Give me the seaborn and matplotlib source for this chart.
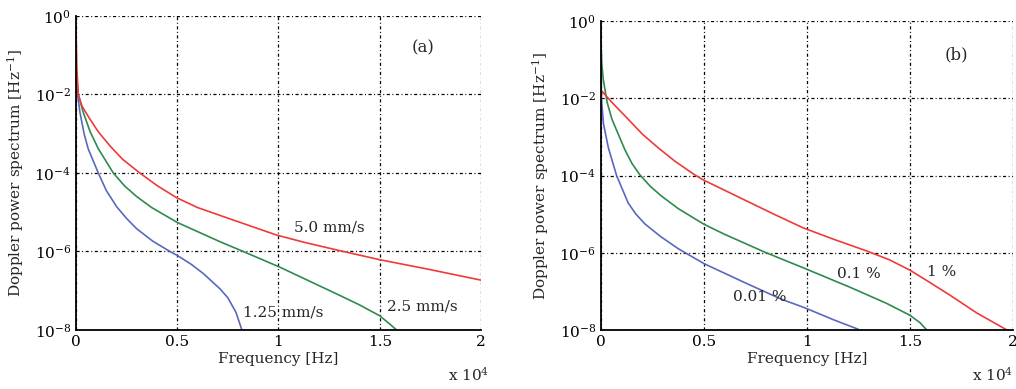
import numpy as np
import pandas as pd
import matplotlib
matplotlib.use("Agg")
import matplotlib.pyplot as plt
from matplotlib.ticker import FuncFormatter, NullLocator
import seaborn as sns

# ---- panel (a): vibration velocity (frequency in Hz, log10 of spectrum) ----
a_f_125 = [0, 90, 197, 400, 600, 1100, 1500, 2009, 2500, 2996, 3800, 4640,
           5000, 5700, 6284, 7108, 7500, 7900, 8180]
a_p_125 = [-1.4, -2.05, -2.46, -3.0, -3.38, -4.0, -4.45, -4.86, -5.16, -5.42,
           -5.74, -6.0, -6.10, -6.33, -6.56, -6.95, -7.18, -7.55, -7.98]
a_f_25 = [0, 110, 360, 700, 1100, 1842, 2400, 2996, 3736, 5000, 7108, 8258,
          10069, 11220, 12868, 14000, 15005, 15500, 15830]
a_p_25 = [-1.4, -2.0, -2.46, -2.95, -3.38, -4.0, -4.33, -4.60, -4.88, -5.26,
          -5.75, -6.0, -6.40, -6.68, -7.08, -7.36, -7.64, -7.85, -8.0]
a_f_50 = [0, 40, 113, 300, 691, 1100, 1678, 2300, 3100, 4000, 4970, 6000,
          7108, 8500, 9900, 11300, 12868, 15005, 17473, 20000]
a_p_50 = [-0.36, -1.3, -2.0, -2.3, -2.63, -2.95, -3.31, -3.65, -3.98, -4.32,
          -4.63, -4.88, -5.08, -5.33, -5.58, -5.77, -5.96, -6.21, -6.46, -6.73]
a_names = ["1.25 mm/s", "2.5 mm/s", "5.0 mm/s"]

# ---- panel (b): concentration ----
b_f_001 = [0, 20, 120, 360, 760, 1322, 1700, 2130, 2900, 3742, 5000, 6970,
           8747, 9874, 11266, 12483]
b_p_001 = [0.0, -2.0, -2.65, -3.28, -4.0, -4.71, -5.0, -5.25, -5.58, -5.89,
           -6.28, -6.77, -7.20, -7.42, -7.73, -7.98]
b_f_01 = [0, 40, 113, 300, 534, 1162, 1500, 1888, 2400, 2938, 3767, 5000,
          6000, 6970, 7939, 9874, 12079, 13866, 15000, 15487, 15812]
b_p_01 = [-0.5, -1.1, -1.51, -2.1, -2.54, -3.33, -3.68, -3.98, -4.28, -4.53,
          -4.86, -5.26, -5.52, -5.75, -5.98, -6.40, -6.89, -7.31, -7.62, -7.81,
          -8.0]
b_f_1 = [0, 60, 600, 1325, 2000, 2780, 3600, 4550, 5000, 6970, 8400, 9800,
         11300, 12892, 14000, 15000, 16000, 16947, 18247, 19708]
b_p_1 = [-1.98, -1.82, -2.14, -2.54, -2.92, -3.28, -3.63, -3.98, -4.12, -4.63,
         -5.0, -5.35, -5.65, -5.95, -6.18, -6.45, -6.78, -7.10, -7.56, -8.0]
b_names = ["0.01 %", "0.1 %", "1 %"]

colors = ["#5a68be", "#2f8a4e", "#f03a3a"]
y_ticks = [1e0, 1e-2, 1e-4, 1e-6, 1e-8]
x_ticks = [0, 5000, 10000, 15000, 20000]

sns.set_style("white")
plt.rcParams["font.family"] = ["DejaVu Serif"]
plt.rcParams["mathtext.fontset"] = "dejavuserif"


def frame(series, names):
    rows = []
    for (f, p), n in zip(series, names):
        rows.append(pd.DataFrame({"f": f, "p": 10.0 ** np.array(p), "name": n}))
    return pd.concat(rows, ignore_index=True)


df_a = frame([(a_f_125, a_p_125), (a_f_25, a_p_25), (a_f_50, a_p_50)], a_names)
df_b = frame([(b_f_001, b_p_001), (b_f_01, b_p_01), (b_f_1, b_p_1)], b_names)

fig = plt.figure(figsize=(10.16, 3.89), dpi=100)
ax1 = fig.add_axes([0.0748, 0.1517, 0.3986, 0.8072])
ax2 = fig.add_axes([0.5915, 0.1517, 0.4055, 0.7936])

for ax, df, names in [(ax1, df_a, a_names), (ax2, df_b, b_names)]:
    sns.lineplot(data=df, x="f", y="p", hue="name", hue_order=names,
                 palette=colors, sort=False, estimator=None, lw=1.2,
                 legend=False, ax=ax)
    ax.set_yscale("log")
    ax.set_xlim(0, 20000)
    ax.set_ylim(1e-8, 1e0)
    ax.set_yticks(y_ticks)
    ax.yaxis.set_minor_locator(NullLocator())
    ax.set_xticks(x_ticks)
    ax.xaxis.set_major_formatter(FuncFormatter(lambda v, pos: "%g" % (v / 1e4)))
    ax.grid(True, color="black", lw=0.9, linestyle=(0, (2.5, 2, 0.8, 2)))
    for s in ["top", "right"]:
        ax.spines[s].set_visible(False)
    for s in ["left", "bottom"]:
        ax.spines[s].set_color("black")
        ax.spines[s].set_linewidth(1.3)
    ax.tick_params(labelsize=11, length=3, direction="in", colors="black")
    ax.set_xlabel("Frequency [Hz]", fontsize=11, labelpad=2)
    ax.set_ylabel("Doppler power spectrum [Hz$^{-1}$]", fontsize=11, labelpad=6)

ax1.text(1.02, -0.143, "x 10$^4$", transform=ax1.transAxes, ha="right",
         va="center", fontsize=11)
ax2.text(1.0, -0.146, "x 10$^4$", transform=ax2.transAxes, ha="right",
         va="center", fontsize=11)

ax1.text(17150, 10 ** -0.8, "(a)", fontsize=12, ha="center", va="center")
ax1.text(12500, 10 ** -5.4, "5.0 mm/s", fontsize=11, ha="center", va="center")
ax1.text(17100, 10 ** -7.4, "2.5 mm/s", fontsize=11, ha="center", va="center")
ax1.text(10250, 10 ** -7.56, "1.25 mm/s", fontsize=11, ha="center", va="center")

ax2.text(17240, 10 ** -0.86, "(b)", fontsize=12, ha="center", va="center")
ax2.text(12530, 10 ** -6.55, "0.1 %", fontsize=11, ha="center", va="center")
ax2.text(16550, 10 ** -6.49, "1 %", fontsize=11, ha="center", va="center")
ax2.text(7700, 10 ** -7.15, "0.01 %", fontsize=11, ha="center", va="center")

fig.savefig("out.png", dpi=100)
